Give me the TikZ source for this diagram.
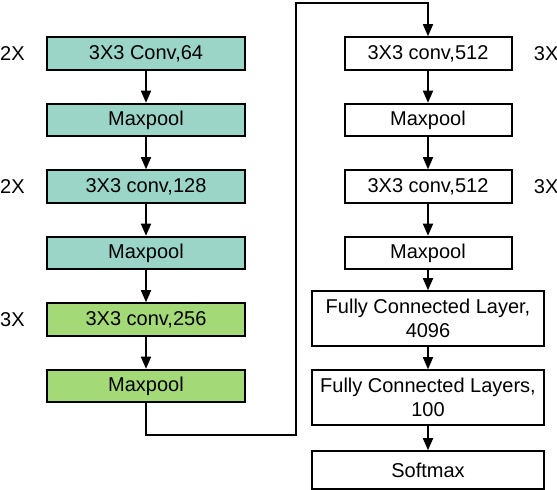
\documentclass[tikz,border=0pt]{standalone}
\usepackage{fontspec}
\setmainfont{Liberation Sans}
\usetikzlibrary{arrows.meta,positioning}
\definecolor{tealbox}{HTML}{9AD5C8}
\definecolor{greenbox}{HTML}{A3D977}
\tikzset{
    layer/.style={
                draw=black,
                line width=1pt,
                minimum width=99pt,
                minimum height=16.25pt,
                inner sep=1pt,
                text centered,
                font=\fontsize{10}{12}\selectfont
            },
        tealayer/.style={
                layer,
                fill=tealbox
            },
        greenlayer/.style={
                layer,
                fill=greenbox
            },
        whitelayer/.style={
                layer,
                fill=white,
                minimum width=83.5pt
            },
        fclayer/.style={
                layer,
                fill=white,
                align=center,
                minimum width=116pt,
                minimum height=27.5pt
            },
        mult/.style={
                inner sep=0pt,
                font=\fontsize{10}{12}\selectfont
            },
}

\begin{document}
\begin{tikzpicture}[
    node distance=16pt,
    flow/.style={
        draw=black,
        line width=0.8pt,
        -{Triangle[length=6pt,width=5pt]}},
  ]
  \useasboundingbox (0,0) rectangle (278.5pt,-245pt);
  % Left column
  \node[tealayer] (conv64) at (73pt,-26.75pt) {3X3 Conv,64};
  \node[tealayer, below=of conv64] (pool1) {Maxpool};
  \node[tealayer, below=of pool1] (conv128) {3X3 conv,128};
  \node[tealayer, below=of conv128] (pool2) {Maxpool};
  \node[greenlayer, below=of pool2] (conv256) {3X3 conv,256};
  \node[greenlayer, below=of conv256] (pool3) {Maxpool};
  % Right column
  \node[whitelayer] (conv512a) at (214pt,-26.75pt) {3X3 conv,512};
  \node[whitelayer, below=of conv512a] (pool4) {Maxpool};
  \node[whitelayer, below=of pool4] (conv512b) {3X3 conv,512};
  \node[whitelayer, below=of conv512b] (pool5) {Maxpool};
  \node[fclayer, below=10pt of pool5] (fc4096) {Fully Connected Layer,\\4096};
  \node[fclayer, below=11pt of fc4096] (fc100) {Fully Connected Layers,\\100};
  \node[fclayer, minimum height=18.75pt, below=12pt of fc100] (softmax) {Softmax};
  % Repeats
  \node[mult, left=10.5pt of conv64] (rep64) {2X};
  \node[mult, left=10.5pt of conv128] (rep128) {2X};
  \node[mult, left=10.5pt of conv256] (rep256) {3X};
  \node[mult, right=10.5pt of conv512a] (rep512a) {3X};
  \node[mult, right=10.5pt of conv512b] (rep512b) {3X};
  % Connectors
  \draw[flow] (conv64) -- (pool1);
  \draw[flow] (pool1) -- (conv128);
  \draw[flow] (conv128) -- (pool2);
  \draw[flow] (pool2) -- (conv256);
  \draw[flow] (conv256) -- (pool3);
  \coordinate (lowturn) at (148pt,-217.5pt);
  \coordinate (highturn) at (148pt,-1.5pt);
  \draw[flow] (pool3.south) |- (lowturn) -- (highturn) -| (conv512a.north);
  \draw[flow] (conv512a) -- (pool4);
  \draw[flow] (pool4) -- (conv512b);
  \draw[flow] (conv512b) -- (pool5);
  \draw[flow] (pool5) -- (fc4096);
  \draw[flow] (fc4096) -- (fc100);
  \draw[flow] (fc100) -- (softmax);
\end{tikzpicture}
\end{document}
